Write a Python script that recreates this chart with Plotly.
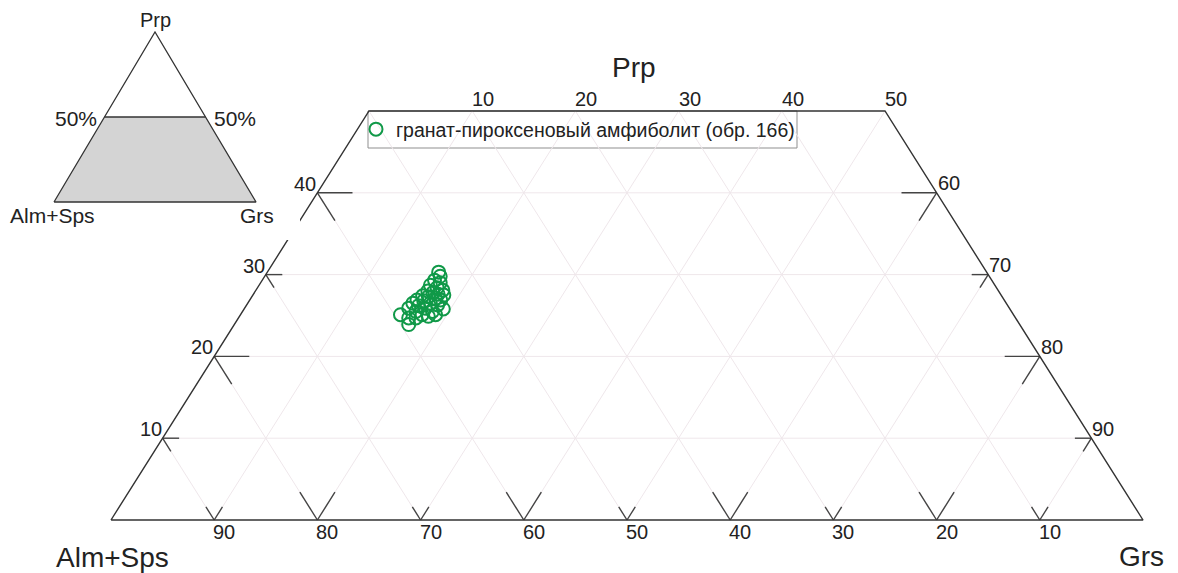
import plotly.graph_objects as go

# Garnet end-member contents, mol.% (Alm+Sps = 100 - Prp - Grs)
prp = [30.3, 29.8, 29.3, 29.0, 28.7, 28.4, 28.1, 28.0, 27.8, 27.6, 27.5,
       27.4, 27.3, 27.1, 26.9, 26.9, 26.8, 26.5, 26.3, 25.8, 26.5, 26.2,
       25.9, 25.5, 25.9, 25.5, 25.1, 24.9, 25.1, 24.7, 23.9, 24.7, 25.1]
grs = [16.6, 17.0, 16.7, 17.4, 16.6, 17.4, 18.1, 16.7, 17.3, 17.9, 18.5,
       16.5, 17.1, 17.9, 18.5, 16.2, 16.9, 17.7, 18.5, 19.3, 16.0, 16.7,
       17.5, 18.4, 15.9, 16.8, 17.6, 18.3, 15.5, 16.5, 16.9, 17.2, 18.9]
sample_name = "гранат-пироксеновый амфиболит (обр. 166)"

# tick labels on each side of the truncated (Prp <= 50 %) triangle
left_ticks = [10, 20, 30, 40]             # Prp on the Alm+Sps–Prp side
top_ticks = [10, 20, 30, 40, 50]          # Grs along the Prp = 50 % line
right_ticks = [60, 70, 80, 90]            # Grs on the Prp–Grs side
bottom_ticks = [90, 80, 70, 60, 50, 40, 30, 20, 10]  # Alm+Sps on the base
grid_steps = [10, 20, 30, 40, 50, 60, 70, 80, 90]
prp_cut = 50

W, H = 1178, 573
FONT = "Liberation Sans, Arial, sans-serif"
TXT = "#222222"
FRAME = "#333333"
GRID = "rgb(239,231,235)"
GREEN = "#109948"


def xy(p, g):
    """Ternary composition (Prp, Grs) -> cartesian plane coordinates."""
    return g + p / 2.0, p


def path(points):
    xs, ys = [], []
    for p, g in points:
        x, y = xy(p, g)
        xs.append(x)
        ys.append(y)
    return xs, ys


def segments(segs):
    xs, ys = [], []
    for a, b in segs:
        sx, sy = path([a, b])
        xs += sx + [None]
        ys += sy + [None]
    return xs, ys


fig = go.Figure()

# ---- grid lines inside the trapezoid
grid = []
for p in left_ticks:
    grid.append(((p, 0), (p, 100 - p)))
for g in grid_steps:
    grid.append(((0, g), (min(prp_cut, 100 - g), g)))
for a in grid_steps:
    top_p = min(prp_cut, 100 - a)
    grid.append(((0, 100 - a), (top_p, 100 - a - top_p)))
gx, gy = segments(grid)
fig.add_trace(go.Scatter(x=gx, y=gy, mode="lines", line=dict(color=GRID, width=1),
                         hoverinfo="skip", showlegend=False))

# ---- tick marks along the grid directions
def tlen(v):
    return 3.4 if v % 20 == 0 else 1.6

ticks = []
for p in left_ticks:           # point: Grs = 0
    t = tlen(p)
    ticks.append(((p, 0), (p, t)))
    ticks.append(((p, 0), (p - t, t)))
for g in right_ticks:          # point: Alm = 0
    p = 100 - g
    t = tlen(g)
    ticks.append(((p, g), (p, g - t)))
    ticks.append(((p, g), (p - t, g)))
for a in bottom_ticks:         # point: Prp = 0
    g = 100 - a
    t = tlen(a)
    ticks.append(((0, g), (t, g)))
    ticks.append(((0, g), (t, g - t)))
tx, ty = segments(ticks)
fig.add_trace(go.Scatter(x=tx, y=ty, mode="lines", line=dict(color="#444444", width=1.4),
                         hoverinfo="skip", showlegend=False))

# ---- outline
fx, fy = path([(0, 0), (0, 100), (prp_cut, 100 - prp_cut), (prp_cut, 0), (0, 0)])
fig.add_trace(go.Scatter(x=fx, y=fy, mode="lines", line=dict(color=FRAME, width=1.4),
                         hoverinfo="skip", showlegend=False))

# ---- analyses
alm = [round(100 - p - g, 1) for p, g in zip(prp, grs)]
px_, py_ = path(list(zip(prp, grs)))
fig.add_trace(go.Scatter(
    x=px_, y=py_, mode="markers", name=sample_name,
    marker=dict(symbol="circle-open", size=13, color=GREEN, line=dict(width=2, color=GREEN)),
    customdata=list(zip(prp, grs, alm)),
    hovertemplate="Prp %{customdata[0]}<br>Grs %{customdata[1]}<br>Alm+Sps %{customdata[2]}<extra></extra>",
))

# ---- inset scheme: full triangle with the plotted field shaded
ix, iy = path([(0, 0), (0, 100), (prp_cut, 100 - prp_cut), (prp_cut, 0), (0, 0)])
fig.add_trace(go.Scatter(x=ix, y=iy, mode="lines", fill="toself", fillcolor="#d4d4d4",
                         line=dict(width=0), xaxis="x2", yaxis="y2",
                         hoverinfo="skip", showlegend=False))
ox, oy = path([(0, 0), (0, 100), (100, 0), (0, 0)])
fig.add_trace(go.Scatter(x=ox, y=oy, mode="lines", line=dict(color=FRAME, width=1.3),
                         xaxis="x2", yaxis="y2", hoverinfo="skip", showlegend=False))
lx, ly = path([(prp_cut, 0), (prp_cut, 100 - prp_cut)])
fig.add_trace(go.Scatter(x=lx, y=ly, mode="lines", line=dict(color=FRAME, width=1.3),
                         xaxis="x2", yaxis="y2", hoverinfo="skip", showlegend=False))

# ---- labels
ann = []


def label(p, g, text, xanchor, xshift, yshift, size=20):
    x, y = xy(p, g)
    ann.append(dict(x=x, y=y, xref="x", yref="y", text=text, showarrow=False,
                    xanchor=xanchor, yanchor="middle", xshift=xshift, yshift=yshift,
                    font=dict(family=FONT, size=size, color=TXT)))


for p in left_ticks:
    label(p, 0, str(p), "right", 1, 9)
for g in top_ticks:
    label(prp_cut, g, str(g), "left", -2, 12.5)
for g in right_ticks:
    label(100 - g, g, str(g), "left", -1, 9.5)
for a in bottom_ticks:
    label(0, 100 - a, str(a), "left", -3, -12)


def ptext(px, py, text, size, xanchor="center"):
    ann.append(dict(x=px / W, y=1 - py / H, xref="paper", yref="paper", text=text,
                    showarrow=False, xanchor=xanchor, yanchor="middle",
                    font=dict(family=FONT, size=size, color=TXT)))


ptext(634.5, 67, "Prp", 28)
ptext(112, 557, "Alm+Sps", 28)
ptext(1141, 556, "Grs", 28)
ptext(155, 20.5, "Prp", 20)
ptext(75.5, 118, "50%", 21)
ptext(235, 118, "50%", 21)
ptext(52.5, 215.5, "Alm+Sps", 21)
ptext(256.5, 215.5, "Grs", 21)

# main plane: 10.32 px per Grs-unit horizontally, 8.18 px per Prp-unit vertically,
# origin of the triangle at pixel (111, 520)
sx, sy, ox0, oy0 = 10.32, 8.18, 111, 520
x_range = [-ox0 / sx, (W - ox0) / sx]
y_range = [-(H - oy0) / sy, oy0 / sy]
# inset plane (occupies the top-left 300 x 240 px)
isx, isy, iox, ioy = 2.02, 1.70, 54, 202
x2_range = [-iox / isx, (300 - iox) / isx]
y2_range = [-(240 - ioy) / isy, ioy / isy]

axis_off = dict(visible=False, showgrid=False, zeroline=False, fixedrange=True)
fig.update_layout(
    width=W, height=H, autosize=False,
    margin=dict(l=0, r=0, t=0, b=0, pad=0),
    paper_bgcolor="white", plot_bgcolor="white",
    xaxis=dict(range=x_range, domain=[0, 1], **axis_off),
    yaxis=dict(range=y_range, domain=[0, 1], **axis_off),
    xaxis2=dict(range=x2_range, domain=[0, 300 / W], anchor="y2", **axis_off),
    yaxis2=dict(range=y2_range, domain=[1 - 240 / H, 1], anchor="x2", **axis_off),
    annotations=ann,
    showlegend=True,
    legend=dict(x=356 / W, y=1 - 129.5 / H, xanchor="left", yanchor="middle",
                bgcolor="rgba(0,0,0,0)", borderwidth=0,
                font=dict(family=FONT, size=19.5, color=TXT)),
    shapes=[dict(type="rect", xref="paper", yref="paper",
                 x0=368 / W, x1=797 / W, y0=1 - 148 / H, y1=1 - 111 / H,
                 line=dict(color="#8f8f8f", width=1), fillcolor="white", layer="below")],
    font=dict(family=FONT, color=TXT),
)

fig.write_html("out.html")
